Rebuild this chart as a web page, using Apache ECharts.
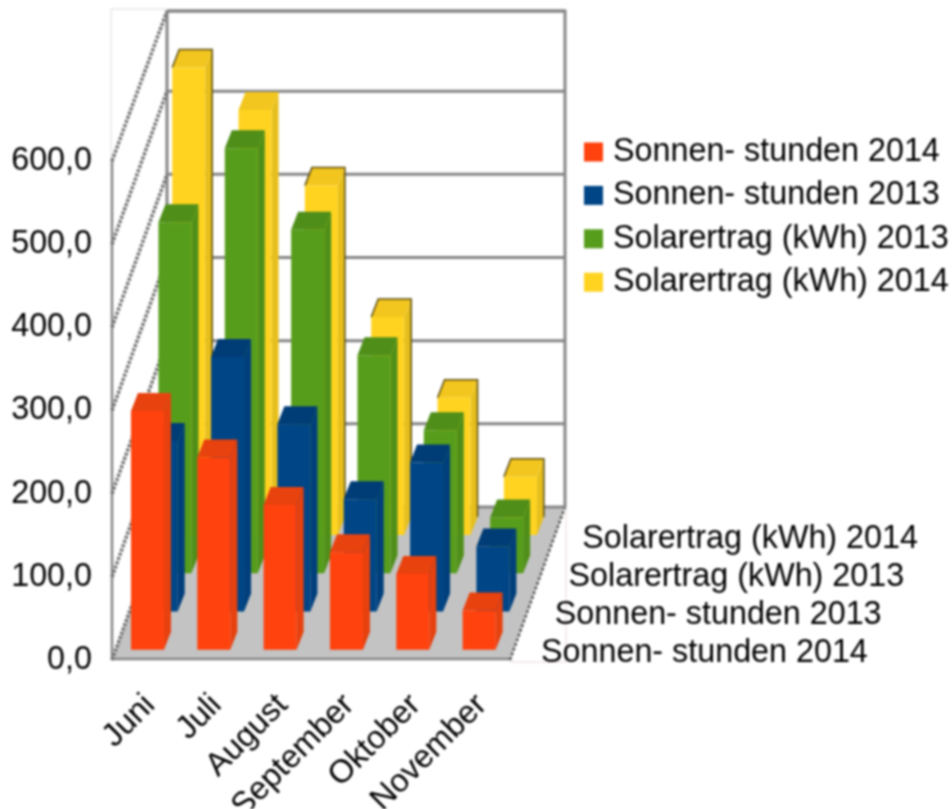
<!DOCTYPE html>
<html>
<head>
<meta charset="utf-8">
<style>
  html, body { margin: 0; padding: 0; background: #fff; }
  /* the reference is an upscaled bitmap, slightly soft */
  #chart { width: 952px; height: 809px; filter: blur(0.8px); }
</style>
<script src="https://cdn.jsdelivr.net/npm/echarts@6/dist/echarts.min.js"></script>
</head>
<body>
<div id="chart"></div>
<script>
const categories = ['Juni', 'Juli', 'August', 'September', 'Oktober', 'November']
const yTicks = [0, 100, 200, 300, 400, 500, 600]
const seriesNames = ['Sonnen- stunden 2014', 'Sonnen- stunden 2013', 'Solarertrag (kWh) 2013', 'Solarertrag (kWh) 2014']

const sonnen2014 = [287, 231, 174, 117, 91, 47]
const sonnen2013 = [205, 306, 225, 135, 179, 78]
const solar2013 = [422, 511, 413, 262, 172, 67]
const solar2014 = [562, 511, 420, 262, 165, 70]

const FONT = 'Liberation Sans'
const FONT_SIZE = 32.3
// depth of the whole floor, in pixels
const DEPTH_X = 55
const DEPTH_Y = -153
const ROWS = 4
// the back wall stops a little short of the 600 line
const WALL_TOP = 3

const colors = [
  { front: '#ff420e', top: '#e8420f', side: '#e6410e' },
  { front: '#004586', top: '#003c76', side: '#003f7c' },
  { front: '#579d1c', top: '#4e8e19', side: '#4f8f19' },
  { front: '#ffd320', top: '#f2c61e', side: '#e6bf1d' }
]

function renderBar(row, outlined) {
  return (params, api) => {
    const p = api.coord([api.value(0), api.value(1)])
    const base = api.coord([api.value(0), 0])
    const dx = DEPTH_X / ROWS * (row + 0.27)
    const dy = DEPTH_Y / ROWS * (row + 0.27)
    const x0 = p[0] + dx - 17.9
    const x1 = x0 + 33
    const yTop = p[1] + dy
    const yBase = base[1] + dy
    const sx = 7
    const sy = -18
    const c = colors[row]
    const children = [
      { type: 'polygon', shape: { points: [[x1, yTop], [x1 + sx, yTop + sy], [x1 + sx, yBase + sy], [x1, yBase]] }, style: { fill: c.side } },
      { type: 'polygon', shape: { points: [[x0, yTop], [x0 + sx, yTop + sy], [x1 + sx, yTop + sy], [x1, yTop]] }, style: { fill: c.top } },
      { type: 'rect', shape: { x: x0, y: yTop, width: x1 - x0, height: yBase - yTop }, style: { fill: c.front } }
    ]
    if (outlined && outlined.includes(params.dataIndex)) {
      children.push({
        type: 'polyline',
        shape: { points: [[x0, yTop], [x0 + sx, yTop + sy], [x1 + sx, yTop + sy], [x1 + sx, yBase + sy]] },
        style: { fill: 'none', stroke: '#5c4e12', lineWidth: 1.5 }
      })
    }
    return { type: 'group', children }
  }
}

function renderFrame(params) {
  const { x, y, width, height } = params.coordSys
  const bottom = y + height
  const right = x + width
  const wallTop = y + DEPTH_Y + WALL_TOP
  const thick = { stroke: '#868686', lineWidth: 3, fill: 'none' }
  const faint = { stroke: '#dcdcdc', lineWidth: 1, fill: 'none' }
  const pts = (points, style) => ({ type: 'polyline', shape: { points }, style })
  const children = [
    pts([[x - 1, wallTop - 2], [x - 1, y]], faint),
    pts([[x + DEPTH_X, wallTop - 2], [x - 1, wallTop - 2]], faint),
    pts([[right + DEPTH_X + 1, bottom + DEPTH_Y], [right + DEPTH_X + 1, bottom + 2], [right, bottom + 2]], { stroke: '#e8d8d8', lineWidth: 1, fill: 'none' }),
    {
      type: 'polygon',
      shape: { points: [[x, bottom], [right, bottom], [right + DEPTH_X, bottom + DEPTH_Y], [x + DEPTH_X, bottom + DEPTH_Y]] },
      style: { fill: '#c3c3c3' }
    },
    pts([[x + DEPTH_X, wallTop], [x + DEPTH_X, bottom + DEPTH_Y]], thick),
    pts([[x + DEPTH_X, wallTop], [right + DEPTH_X, wallTop], [right + DEPTH_X, bottom + DEPTH_Y]], thick),
    pts([[x, y], [x, bottom - 1], [right, bottom - 1]], { stroke: '#868686', lineWidth: 2.5, fill: 'none' }),
    pts([[right, bottom], [right + DEPTH_X, bottom + DEPTH_Y]], { stroke: '#555', lineWidth: 2.5, lineDash: [3, 2], fill: 'none' })
  ]
  seriesNames.forEach((name, r) => {
    children.push({
      type: 'text',
      style: {
        x: right + 31 + DEPTH_X / ROWS * r,
        y: bottom - 6.5 + DEPTH_Y / ROWS * r,
        text: name,
        font: FONT_SIZE + 'px "' + FONT + '"',
        fill: '#000',
        verticalAlign: 'middle'
      }
    })
  })
  return { type: 'group', children }
}

function renderGridline(params, api) {
  const p = api.coord([0, api.value(1)])
  const x = params.coordSys.x
  const right = x + params.coordSys.width
  const bx = x + DEPTH_X
  const by = Math.max(p[1] + DEPTH_Y, params.coordSys.y + DEPTH_Y + WALL_TOP)
  return {
    type: 'group',
    children: [
      { type: 'polyline', shape: { points: [[x, p[1]], [bx, by]] }, style: { stroke: '#707070', lineWidth: 3.5, lineDash: [3, 1.5], fill: 'none' } },
      { type: 'polyline', shape: { points: [[bx, by], [right + DEPTH_X, by]] }, style: { stroke: '#868686', lineWidth: 3, fill: 'none' } }
    ]
  }
}

function barSeries(row, values, outlined) {
  return {
    name: seriesNames[row],
    type: 'custom',
    renderItem: renderBar(row, outlined),
    itemStyle: { color: colors[row].front },
    encode: { x: 0, y: 1 },
    data: values.map((v, i) => [i, v]),
    silent: true
  }
}

const chart = echarts.init(document.getElementById('chart'))
chart.setOption({
  animation: false,
  backgroundColor: '#fff',
  textStyle: { fontFamily: FONT },
  grid: { left: 112, right: 442, top: 161, bottom: 149, outerBoundsMode: 'none' },
  legend: {
    orient: 'vertical',
    left: 579,
    top: 131,
    icon: 'rect',
    itemWidth: 19,
    itemHeight: 19,
    itemGap: 11.4,
    data: seriesNames,
    textStyle: { fontFamily: FONT, fontSize: FONT_SIZE, color: '#000', padding: [2, 0, 0, 5] }
  },
  xAxis: {
    type: 'category',
    data: categories,
    axisLine: { show: false },
    axisTick: { show: false },
    axisLabel: { interval: 0, rotate: 45, margin: 45, padding: [0, -7, 0, 0], hideOverlap: false, fontFamily: FONT, fontSize: FONT_SIZE, color: '#000' }
  },
  yAxis: {
    type: 'value',
    min: 0,
    max: 600,
    interval: 100,
    axisLine: { show: false },
    axisTick: { show: false },
    splitLine: { show: false },
    axisLabel: {
      margin: 20,
      padding: [8, 0, 0, 0],
      fontFamily: FONT,
      fontSize: FONT_SIZE,
      color: '#000',
      formatter: v => v.toFixed(1).replace('.', ',')
    }
  },
  series: [
    { type: 'custom', renderItem: renderFrame, data: [[0, 0]], encode: { x: 0, y: 1 }, silent: true },
    { type: 'custom', renderItem: renderGridline, data: yTicks.map(v => [0, v]), encode: { x: 0, y: 1 }, silent: true },
    barSeries(3, solar2014, [0, 2, 3, 4, 5]),
    barSeries(2, solar2013),
    barSeries(1, sonnen2013),
    barSeries(0, sonnen2014)
  ]
})
</script>
</body>
</html>
